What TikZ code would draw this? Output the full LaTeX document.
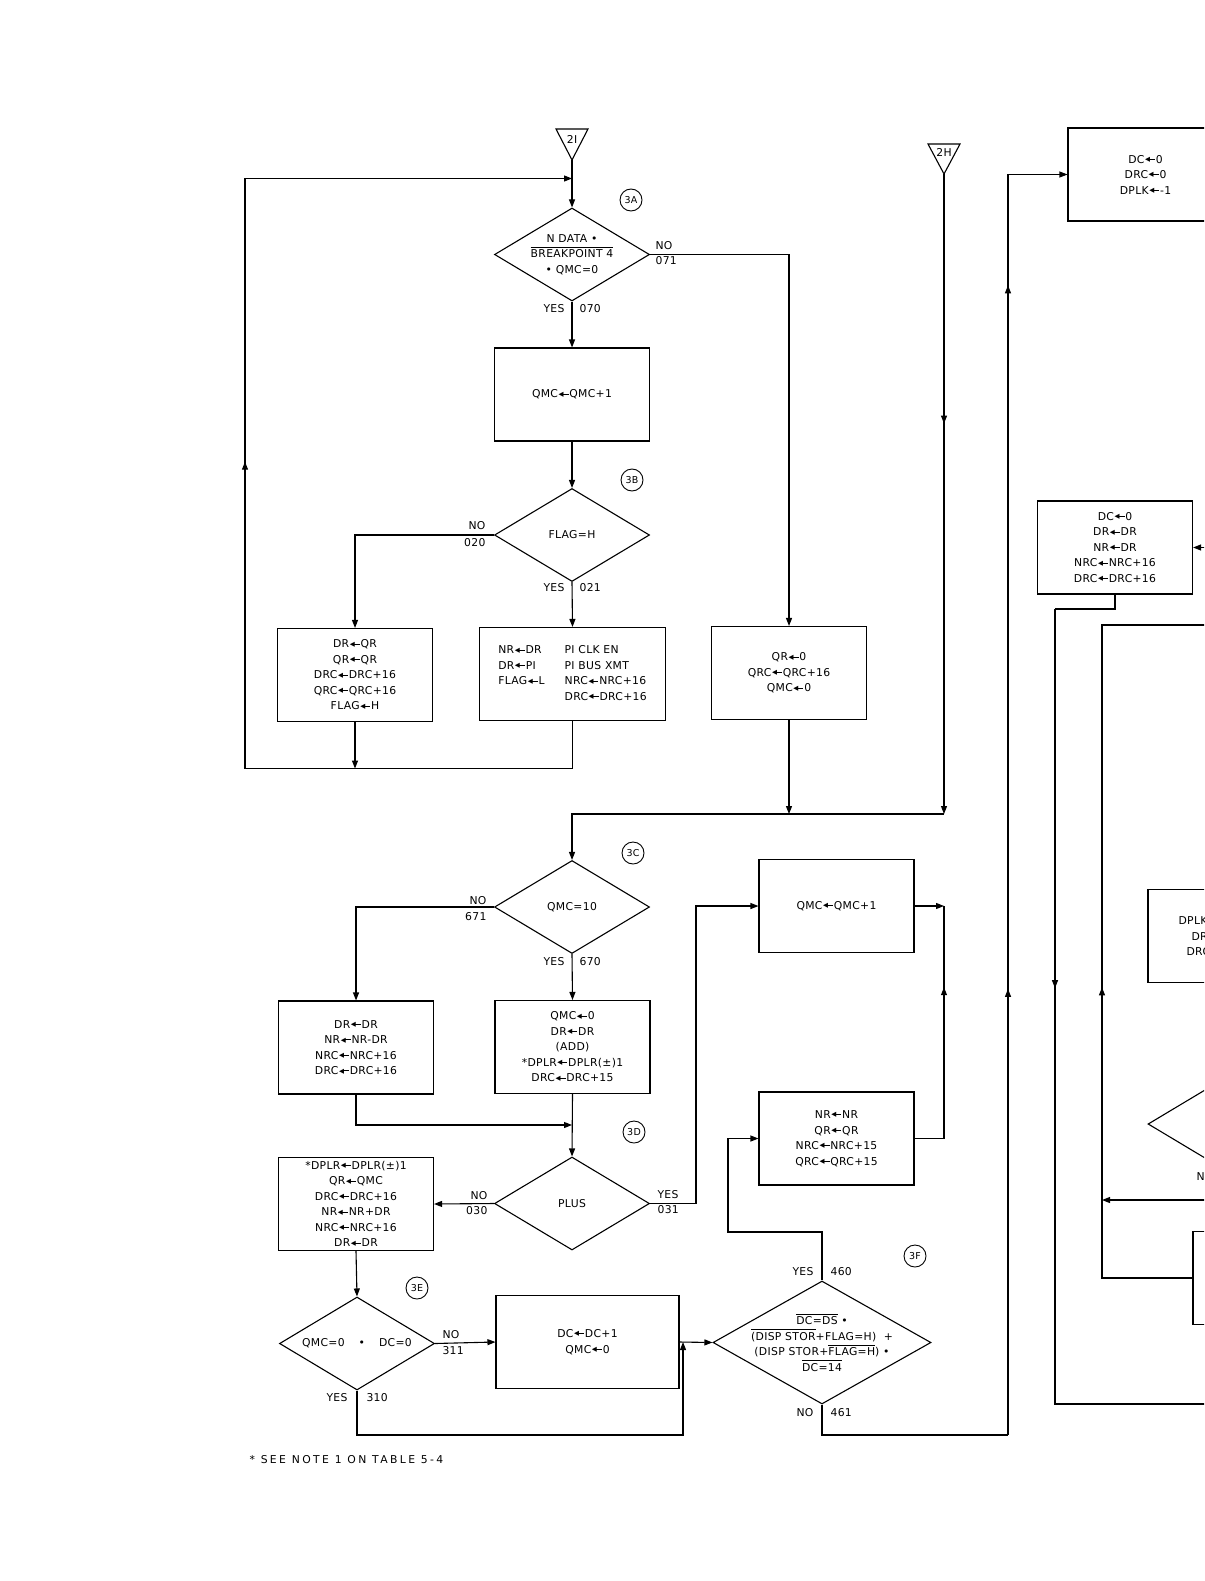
\documentclass[tikz,border=0pt]{standalone}
\usepackage{fontspec}
\setmainfont{DejaVu Sans}[LetterSpace=3]
\newfontfamily\symfont{DejaVu Sans}
\usetikzlibrary{arrows.meta,shapes.geometric,decorations.markings,calc}

% filled-head assignment arrow and overbar
\newcommand{\la}{\kern0.6pt\raisebox{0.15em}{\scalebox{0.6}[0.62]{\symfont ◀}}\kern-1.5pt\rule[0.33em]{6.5pt}{0.75pt}\kern0.8pt}
\newcommand{\ovl}[1]{$\overline{\mbox{\rule{0pt}{0.86em}#1}}$}

\begin{document}
\begin{tikzpicture}[x=1pt,y=-1pt,
    line width=1.1pt, >={Triangle[length=8pt,width=6pt]},
    every node/.style={font=\fontsize{10.8}{15.5}\selectfont},
    box/.style={draw,rectangle,minimum width=155,minimum height=93,align=center,inner sep=0},
    wbox/.style={box,minimum width=186},
    dec/.style={draw,diamond,inner sep=0,minimum width=155,minimum height=93},
    txt/.style={align=center,inner sep=0},
    tag/.style={draw,circle,inner sep=0,minimum size=22,line width=0.9pt,font=\fontsize{9.5}{11}\selectfont},
    lab/.style={inner sep=0},
    mid/.style={postaction=decorate,decoration={markings,mark=at position #1 with {\arrow{>}}}},
    mid2/.style 2 args={postaction=decorate,decoration={markings,
        mark=at position #1 with {\arrow{>}},mark=at position #2 with {\arrow{>}}}}]
  \useasboundingbox (0,0) rectangle (1204,1581);
  \clip (0,0) rectangle (1204,1581);

  % off-page connectors
  \node[lab] (p2I) at (572,139) {2I};
  \draw ($(p2I)+(-16,-10)$) -- ++(32,0) -- ++(-16,31) -- cycle;
  \coordinate (p2Ia) at ($(p2I)+(0,21)$);
  \node[lab] (p2H) at (944,152) {2H};
  \draw ($(p2H)+(-16,-8)$) -- ++(32,0) -- ++(-16,30) -- cycle;
  \coordinate (p2Ha) at ($(p2H)+(0,22)$);

  % step tags
  \node[tag] (s3A) at (631,200) {3A};
  \node[tag] (s3B) at (632,480) {3B};
  \node[tag] (s3C) at (633,853) {3C};
  \node[tag] (s3D) at (634,1132) {3D};
  \node[tag] (s3E) at (417,1288) {3E};
  \node[tag] (s3F) at (915,1256) {3F};

  % decisions
  \node[dec] (d3A) at (572,254.5) {};
  \node[txt] (t3A) at (d3A) {N DATA •\\ \ovl{BREAKPOINT 4}\\ • QMC=0};
  \node[dec] (d3B) at (572,535) {};
  \node[txt] (t3B) at (d3B) {FLAG=H};
  \node[dec] (d3C) at (572,907) {};
  \node[txt] (t3C) at (d3C) {QMC=10};
  \node[dec] (d3D) at (572,1203.5) {};
  \node[txt] (t3D) at (d3D) {PLUS};
  \node[dec] (d3E) at (357,1343.5) {};
  \node[txt] (t3E) at (d3E) {QMC=0\hspace{14pt}•\hspace{14pt}DC=0};
  \node[dec,minimum width=218,minimum height=123] (d3F) at (822,1342.5) {};
  \node[txt] (t3F) at (d3F) {\ovl{DC=DS} •\\ \ovl{(DISP STOR}+FLAG=H)\ \ +\\
    (DISP STOR+\ovl{FLAG=H})\ •\\ \ovl{DC=14}};
  \node[dec] (dR) at (1225.5,1124) {};

  % operation boxes
  \node[box] (b3A) at (572,394.5) {QMC\la QMC+1};
  \node[box] (bB1) at (355,675) {DR\la QR\\ QR\la QR\\ DRC\la DRC+16\\ QRC\la QRC+16\\ FLAG\la H};
  \node[wbox] (bB2) at (572.5,674) {\begin{tabular}{@{}l@{\hspace{20pt}}l@{}}
    NR\la DR & PI CLK EN\\ DR\la PI & PI BUS XMT\\ FLAG\la L & NRC\la NRC+16\\ & DRC\la DRC+16\end{tabular}};
  \node[box] (bB3) at (789,673) {QR\la 0\\ QRC\la QRC+16\\ QMC\la 0};
  \node[box] (bC1) at (356,1047.5) {DR\la DR\\ NR\la NR-DR\\ NRC\la NRC+16\\ DRC\la DRC+16};
  \node[box] (bC2) at (572.5,1047) {QMC\la 0\\ DR\la DR\\ (ADD)\\ *DPLR\la DPLR(±)1\\ DRC\la DRC+15};
  \node[box] (bC3) at (836.5,906) {QMC\la QMC+1};
  \node[box] (bD) at (356,1204) {*DPLR\la DPLR(±)1\\ QR\la QMC\\ DRC\la DRC+16\\ NR\la NR+DR\\ NRC\la NRC+16\\ DR\la DR};
  \node[box] (bF) at (836.5,1138.5) {NR\la NR\\ QR\la QR\\ NRC\la NRC+15\\ QRC\la QRC+15};
  \node[box,minimum width=183] (bE) at (587.5,1342) {DC\la DC+1\\ QMC\la 0};
  \node[box] (bR1) at (1145.5,174.5) {DC\la 0\\ DRC\la 0\\ DPLK\la -1};
  \node[box] (bR2) at (1115,547.5) {DC\la 0\\ DR\la DR\\ NR\la DR\\ NRC\la NRC+16\\ DRC\la DRC+16};
  \node[box] (bR3) at (1225.5,936) {};
  \node[lab,anchor=west] (tR3a) at (1178,921) {DPLK};
  \node[lab,anchor=west] (tR3b) at (1191,937) {DR};
  \node[lab,anchor=west] (tR3c) at (1186,952) {DRC};
  \node[box] (bR4) at (1270.5,1278) {};

  % branch labels
  \node[lab,anchor=west] (n3A) at (655,246) {NO};
  \node[lab,anchor=west] (k3A) at (655,261) {071};
  \node[lab,anchor=east] (y3A) at (565,308.5) {YES};
  \node[lab,anchor=west] (m3A) at (579,308.5) {070};
  \node[lab,anchor=east] (n3B) at (486,526) {NO};
  \node[lab,anchor=east] (k3B) at (486,542.5) {020};
  \node[lab,anchor=east] (y3B) at (565,588) {YES};
  \node[lab,anchor=west] (m3B) at (579,588) {021};
  \node[lab,anchor=east] (n3C) at (487,900.5) {NO};
  \node[lab,anchor=east] (k3C) at (487,916.5) {671};
  \node[lab,anchor=east] (y3C) at (565,962) {YES};
  \node[lab,anchor=west] (m3C) at (579,962) {670};
  \node[lab,anchor=east] (n3D) at (488,1196) {NO};
  \node[lab,anchor=east] (k3D) at (488,1211) {030};
  \node[lab,anchor=west] (y3D) at (657,1195) {YES};
  \node[lab,anchor=west] (m3D) at (657,1210) {031};
  \node[lab,anchor=west] (n3E) at (442,1335) {NO};
  \node[lab,anchor=west] (k3E) at (442,1351) {311};
  \node[lab,anchor=east] (y3E) at (348,1398) {YES};
  \node[lab,anchor=west] (m3E) at (366,1398) {310};
  \node[lab,anchor=east] (y3F) at (814,1271.5) {YES};
  \node[lab,anchor=west] (m3F) at (830,1271.5) {460};
  \node[lab,anchor=east] (n3F) at (814,1413) {NO};
  \node[lab,anchor=west] (k3F) at (830,1413) {461};
  \node[lab,anchor=west] (nR) at (1196,1177) {NO};
  \node[lab,anchor=west] (note) at (249,1460) {\addfontfeature{LetterSpace=22}* SEE NOTE 1 ON TABLE 5-4};

  % bends
  \coordinate (jB) at (572,768.5);
  \coordinate (lB) at (245,768.5);
  \coordinate (lT) at (245,178.5);
  \coordinate (jC) at (944,814);
  \coordinate (jD) at (572,1125);
  \coordinate (yD) at (696,1203.5);
  \coordinate (yE) at (683,1435);
  \coordinate (yF) at (728,1232);
  \coordinate (nF) at (1008,1435);
  \coordinate (iR2) at (1215,547.5);
  \coordinate (rB) at (1055,609);
  \coordinate (rC) at (1215,1404);
  \coordinate (fC) at (1102,625);
  \coordinate (fT) at (1215,625);
  \coordinate (iR5) at (1215,1200);

  % flow
  \draw[->] (p2Ia) -- (d3A.north);
  \draw[->] (d3A.south) -- (b3A.north);
  \draw[->] (b3A.south) -- (d3B.north);
  \draw[->] (d3A.east) -| (bB3.north);
  \draw[->] (d3B.west) -| (bB1.north);
  \draw[->] (d3B.south) -- (bB2.north);
  \draw (bB2.south) |- (lB);
  \draw[->] (bB1.south) -- (bB1.south |- lB);
  \draw[mid=0.52] (lB) -- (lT);
  \draw[->] (lT) -- (lT -| d3A.north);
  \draw[->] (bB3.south) -- (bB3.south |- jC);
  \draw[mid=0.39,->] (p2Ha) -- (jC);
  \draw[->] (jC) -| (d3C.north);
  \draw[->] (d3C.west) -| (bC1.north);
  \draw[->] (d3C.south) -- (bC2.north);
  \draw[->] (bC1.south) |- (jD);
  \draw[->] (bC2.south) -- (d3D.north);
  \draw[->] (d3D.west) -- (bD.east);
  \draw[->] (d3D.east) -- (yD) |- (bC3.west);
  \draw[->] (bC3.east) -- (bC3.east -| jC);
  \draw[mid=0.69] (bF.east) -| (jC |- bC3.east);
  \draw[->] (bD.south) -- (d3E.north);
  \draw[->] (d3E.east) -- (bE.west);
  \draw[->] (d3E.south) |- (yE) -- (yE |- bE.east);
  \draw[->] (bE.east) -- (d3F.west);
  \draw[->] (d3F.north) |- (yF) |- (bF.west);
  \draw (d3F.south) |- (nF);
  \draw[mid2={0.338}{0.871},->] (nF) -- (nF |- bR1.west) -- (bR1.west);
  \draw[->] (iR2) -- (bR2.east);
  \draw (bR2.south) |- (rB);
  \draw[mid=0.397] (rB) |- (rC);
  \draw[mid=0.445] (bR4.west) -| (fC) -- (fT);
  \draw[->] (iR5) -- (iR5 -| fC);
\end{tikzpicture}
\end{document}
